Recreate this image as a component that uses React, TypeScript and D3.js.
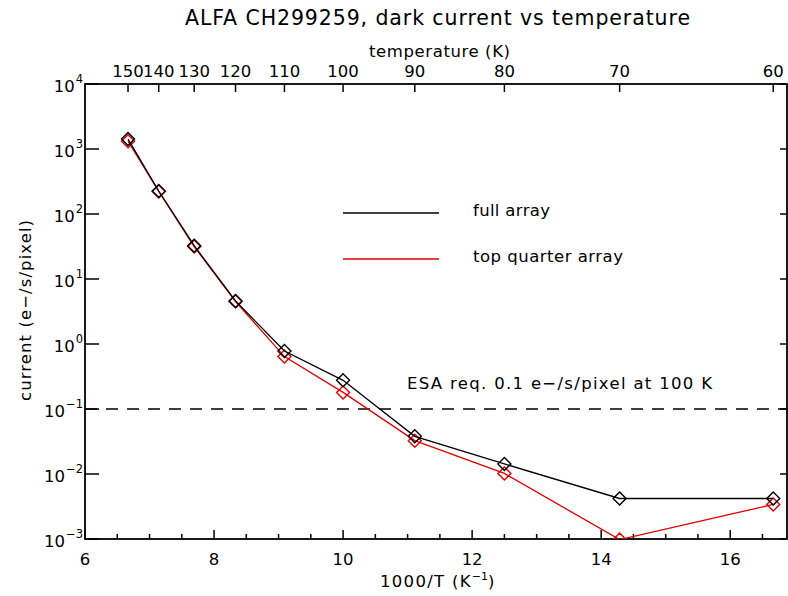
import React from "react";
import * as d3 from "d3";

// temperatures (K) of the measurements, plotted against 1000/T
const temps = [150, 140, 130, 120, 110, 100, 90, 80, 70, 60];
const fullArray = [1420, 226, 32.5, 4.6, 0.78, 0.276, 0.038, 0.0143, 0.0042, 0.0042];
const topQuarter = [1320, 222, 31.5, 4.5, 0.64, 0.18, 0.0326, 0.0102, 0.00098, 0.0034];

const topTicks = [150, 140, 130, 120, 110, 100, 90, 80, 70, 60];
const bottomTicks = [6, 8, 10, 12, 14, 16];
const yExponents = [-3, -2, -1, 0, 1, 2, 3, 4];
const esaLimit = 0.1;

const W = 788;
const H = 596;
const margin = { top: 84, right: 1, bottom: 57, left: 85 };
const font = "'DejaVu Sans', sans-serif";
const fs = 16.5;

export default function App() {
  const x = d3.scaleLinear().domain([6, 16.88]).range([margin.left, W - margin.right]);
  const y = d3.scaleLog().domain([1e-3, 1e4]).range([H - margin.bottom, margin.top]);
  const [x0, x1] = x.range();
  const [y0, y1] = y.range();

  const line = d3
    .line<number>()
    .x((_, i) => x(1000 / temps[i]))
    .y((d) => y(d));

  const minor = d3.range(6, 16.9, 0.5).filter((v) => v % 2 !== 0);

  const diamond = (cx: number, cy: number, r = 6.5) =>
    `M${cx},${cy - r}L${cx + r},${cy}L${cx},${cy + r}L${cx - r},${cy}Z`;

  const series = [
    { values: topQuarter, color: "#e00000" },
    { values: fullArray, color: "#000000" },
  ];

  return (
    <svg
      width={W}
      height={H}
      style={{ position: "absolute", left: 0, top: 0, background: "#fff" }}
      fontFamily={font}
    >
      <defs>
        <clipPath id="plot">
          <rect x={x0} y={y1} width={x1 - x0} height={y0 - y1} />
        </clipPath>
      </defs>
      <rect width={W} height={H} fill="#fff" />

      {/* title */}
      <text x={185} y={25} fontSize={20.5} textLength={505} lengthAdjust="spacing" fill="#000">
        ALFA CH299259, dark current vs temperature
      </text>

      {/* top axis: temperature */}
      <text x={369} y={57} fontSize={fs} textLength={141} lengthAdjust="spacing">
        temperature (K)
      </text>
      {topTicks.map((t) => (
        <g key={"tt" + t}>
          <line x1={x(1000 / t)} x2={x(1000 / t)} y1={y1} y2={y1 + 8} stroke="#000" strokeWidth={1.5} />
          <text x={x(1000 / t)} y={77} textAnchor="middle" fontSize={fs}>
            {t}
          </text>
        </g>
      ))}

      {/* bottom axis */}
      {bottomTicks.map((t) => (
        <g key={"bt" + t}>
          <line x1={x(t)} x2={x(t)} y1={y0} y2={y0 - 9} stroke="#000" strokeWidth={1.5} />
          <text x={x(t)} y={565} textAnchor="middle" fontSize={fs}>
            {t}
          </text>
        </g>
      ))}
      {minor.map((t) => (
        <line key={"mt" + t} x1={x(t)} x2={x(t)} y1={y0} y2={y0 - 5} stroke="#000" strokeWidth={1.5} />
      ))}
      <text x={380} y={587} fontSize={fs}>
        <tspan letterSpacing={1.3}>1000/T (K</tspan>
        <tspan dy={-7} fontSize={11}>
          −1
        </tspan>
        <tspan dy={7}>)</tspan>
      </text>

      {/* left / right axes */}
      {yExponents.map((e) => {
        const yy = y(Math.pow(10, e));
        return (
          <g key={"ye" + e}>
            <line x1={x0} x2={x0 + 14} y1={yy} y2={yy} stroke="#000" strokeWidth={1.5} />
            <line x1={x1} x2={x1 - 7} y1={yy} y2={yy} stroke="#000" strokeWidth={1.5} />
            <text x={83} y={yy + 8} textAnchor="end" fontSize={fs}>
              <tspan>10</tspan>
              <tspan dx={1} dy={-9} fontSize={11.5}>
                {e < 0 ? "−" + -e : String(e)}
              </tspan>
            </text>
          </g>
        );
      })}
      <text
        transform={`translate(31,401) rotate(-90)`}
        fontSize={fs}
        textLength={181}
        lengthAdjust="spacing"
      >
        current (e−/s/pixel)
      </text>

      {/* frame */}
      <rect x={x0} y={y1} width={x1 - x0} height={y0 - y1} fill="none" stroke="#000" strokeWidth={1.8} />

      {/* ESA requirement */}
      <line
        x1={x0}
        x2={x1}
        y1={y(esaLimit)}
        y2={y(esaLimit)}
        stroke="#000"
        strokeWidth={1.3}
        strokeDasharray="12,9"
      />
      <text x={407} y={389} fontSize={fs} textLength={305} lengthAdjust="spacing">
        ESA req. 0.1 e−/s/pixel at 100 K
      </text>

      {/* data */}
      <g clipPath="url(#plot)">
        {series.map((s, si) => (
          <g key={"s" + si}>
            <path d={line(s.values) || ""} fill="none" stroke={s.color} strokeWidth={1.3} />
            {s.values.map((v, i) => (
              <path
                key={i}
                d={diamond(x(1000 / temps[i]), y(v))}
                fill="none"
                stroke={s.color}
                strokeWidth={1.4}
              />
            ))}
          </g>
        ))}
      </g>

      {/* legend */}
      <line x1={343} x2={439} y1={213} y2={213} stroke="#000" strokeWidth={1.3} />
      <text x={473} y={216} fontSize={fs} textLength={77} lengthAdjust="spacing">
        full array
      </text>
      <line x1={343} x2={439} y1={259} y2={259} stroke="#e00000" strokeWidth={1.3} />
      <text x={473} y={262} fontSize={fs} textLength={150} lengthAdjust="spacing">
        top quarter array
      </text>
    </svg>
  );
}
